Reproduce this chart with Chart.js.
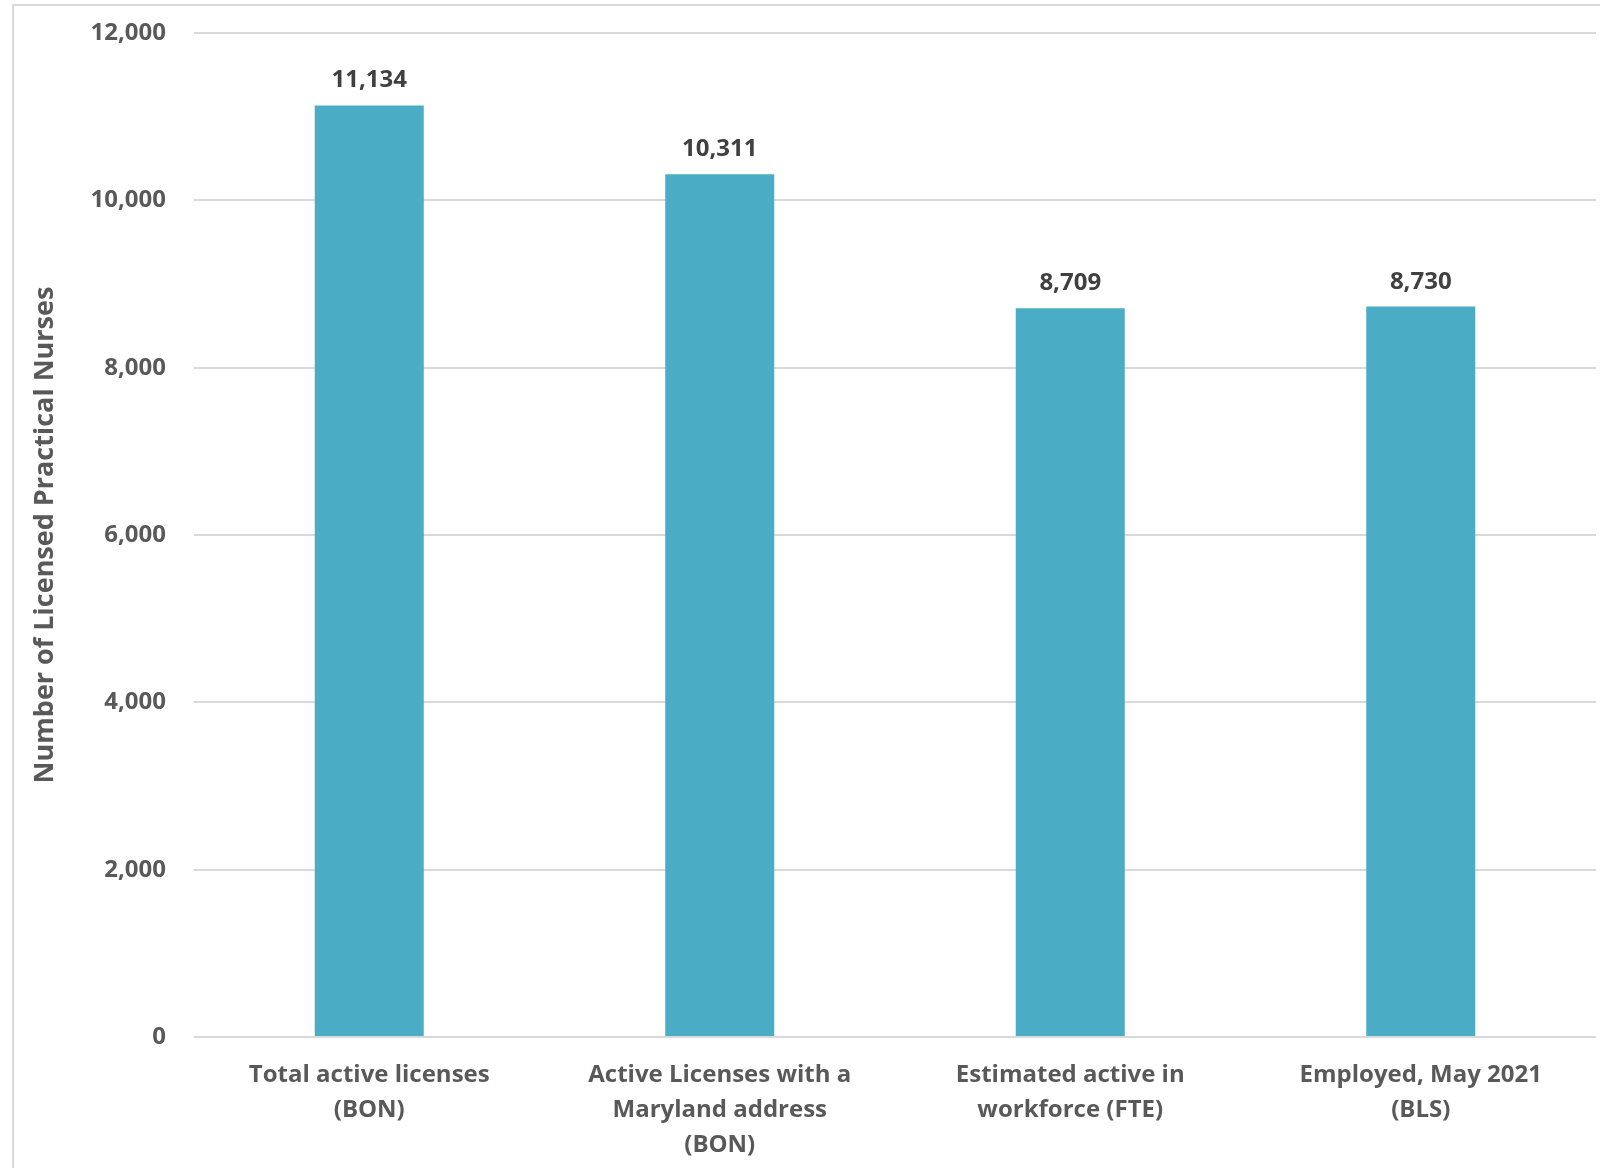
<!DOCTYPE html>
<html>
<head>
<meta charset="utf-8">
<title>Licensed Practical Nurses</title>
<script src="https://cdn.jsdelivr.net/npm/chart.js@4"></script>
<style>
    body { margin: 0; background: #ffffff; }
    #chart { display: block; }
</style>
</head>
<body>
<canvas id="chart" width="1600" height="1168"></canvas>
<script>
// Chart data
const categories = [
    ['Total active licenses', '(BON)'],
    ['Active Licenses with a', 'Maryland address', '(BON)'],
    ['Estimated active in', 'workforce (FTE)'],
    ['Employed, May 2021', '(BLS)']
];
const nurseCounts = [11134, 10311, 8709, 8730];
const yTicks = [0, 2000, 4000, 6000, 8000, 10000, 12000];

const fontFamily = '"Open Sans", "Noto Sans", sans-serif';

// Light frame round the chart and value labels over each bar
const frameAndLabels = {
    id: 'frameAndLabels',
    beforeDraw(chart) {
        const ctx = chart.ctx;
        ctx.save();
        ctx.strokeStyle = '#d9d9d9';
        ctx.lineWidth = 2;
        ctx.strokeRect(13, 5, 1600, 1200);
        ctx.restore();
    },
    afterDatasetsDraw(chart) {
        const ctx = chart.ctx;
        const meta = chart.getDatasetMeta(0);
        ctx.save();
        ctx.font = 'bold 24px ' + fontFamily;
        ctx.fillStyle = '#404040';
        ctx.textAlign = 'center';
        ctx.textBaseline = 'alphabetic';
        meta.data.forEach(function(bar, i) {
            const value = chart.data.datasets[0].data[i];
            ctx.fillText(value.toLocaleString('en-US'), bar.x, bar.y - 18);
        });
        ctx.restore();
    }
};

const ctx = document.getElementById('chart').getContext('2d');
new Chart(ctx, {
    type: 'bar',
    data: {
        labels: categories,
        datasets: [{
            data: nurseCounts,
            backgroundColor: '#4bacc6',
            borderWidth: 0,
            categoryPercentage: 1,
            barPercentage: 0.311
        }]
    },
    options: {
        responsive: false,
        animation: false,
        devicePixelRatio: 1,
        layout: { padding: { left: 0, top: 33, right: 4, bottom: 0 } },
        plugins: {
            legend: { display: false },
            tooltip: { enabled: false }
        },
        scales: {
            x: {
                grid: { display: false },
                border: { display: false },
                ticks: {
                    color: '#595959',
                    font: { family: fontFamily, size: 24, weight: 'bold', lineHeight: 1.46 },
                    padding: 13,
                    maxRotation: 0,
                    autoSkip: false
                },
                afterFit(scale) { scale.height = 131; }
            },
            y: {
                min: 0,
                max: 12000,
                afterBuildTicks(scale) {
                    scale.ticks = yTicks.map(function(v) { return { value: v }; });
                },
                grid: { color: '#d9d9d9', lineWidth: 2, drawTicks: false },
                border: { display: false },
                ticks: {
                    color: '#595959',
                    font: { family: fontFamily, size: 24, weight: 'bold' },
                    padding: 28,
                    callback(value) { return Number(value).toLocaleString('en-US'); }
                },
                title: {
                    display: true,
                    text: 'Number of Licensed Practical Nurses',
                    color: '#595959',
                    font: { family: fontFamily, size: 27, weight: 'bold' },
                    padding: { top: 29, bottom: 0 }
                },
                afterFit(scale) {
                    scale.width = 194;
                    scale.paddingTop = 0;
                    scale.paddingBottom = 0;
                }
            }
        }
    },
    plugins: [frameAndLabels]
});
</script>
</body>
</html>
